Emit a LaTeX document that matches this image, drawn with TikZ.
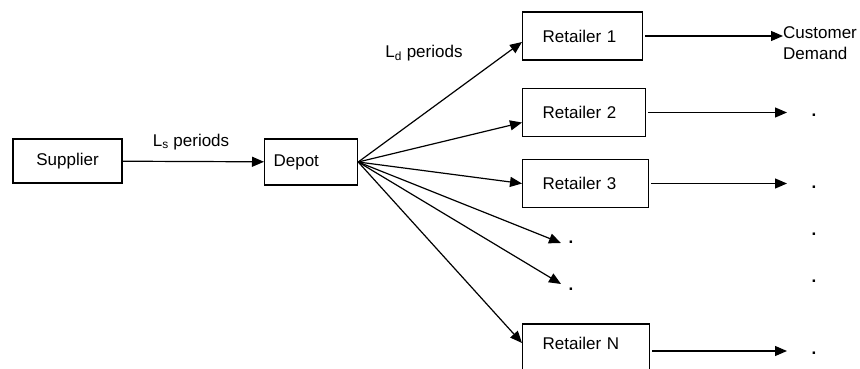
\documentclass[tikz,border=0pt]{standalone}
\usepackage{fontspec}
\setmainfont{Liberation Sans}
\usetikzlibrary{positioning, arrows.meta}

\begin{document}
\begin{tikzpicture}[x=1pt, y=-1pt, >={Triangle[length=12pt, width=10pt]},
    every node/.style={font=\fontsize{17}{21}\selectfont},
    box/.style={draw, line width=1.2pt, inner ysep=0pt, minimum height=#1},
    retailer/.style={box=48pt, text width=#1, inner xsep=20pt, align=left},
    flow/.style={->, line width=1.2pt},
    dot/.style={anchor=base west, inner sep=0pt, font=\fontsize{17}{21}\selectfont\bfseries}]
    \useasboundingbox (0,0) rectangle (860,369);

    % Supplier and depot
    \node[box=44pt, minimum width=109pt] (supplier) at (67.5,161) {Supplier};
    \node[box=46pt, text width=75pt, inner xsep=9pt, align=left, anchor=west] (depot) at (264,162) {Depot};
    \draw[flow] (supplier) -- (depot);
    \node (ls) at (191,142) {L\textsubscript{s} periods};

    % Retailers
    \node[retailer=80pt, anchor=west] (r1) at (522,36) {Retailer 1};
    \node[retailer=83pt, anchor=west] (r2) at (522,112.5) {Retailer 2};
    \node[retailer=86pt, anchor=west] (r3) at (522,183.5) {Retailer 3};
    \node[retailer=87pt, anchor=west, box=54pt, text depth=16pt] (rN) at (522,351) {Retailer N};
    \node (ld) at (424,53) {L\textsubscript{d} periods};

    % Depot to retailers
    \coordinate (m1) at (561,243);
    \coordinate (m2) at (561,284);
    \node[dot] (md1) at (568.5,243) {.};
    \node[dot] (md2) at (568.5,290) {.};
    \draw[flow] (depot.east) -- ([yshift=-6pt]r1.west);
    \draw[flow] (depot.east) -- ([yshift=-10pt]r2.west);
    \draw[flow] (depot.east) -- (r3.west);
    \draw[flow] (depot.east) -- (m1);
    \draw[flow] (depot.east) -- (m2);
    \draw[flow] (depot.east) -- ([yshift=8pt]rN.west);

    % Customer demand
    \coordinate (t1) at (783,36);
    \coordinate (t2) at (787,112.5);
    \coordinate (t3) at (787,183.5);
    \coordinate (tN) at (787,351);
    \node[anchor=west, align=left, inner sep=0pt] (cd) at (783,43) {Customer\\Demand};
    \draw[flow, shorten <=2pt] (r1.east) -- (t1);
    \draw[flow, shorten <=2pt] (r2.east) -- (t2);
    \draw[flow, shorten <=2pt] (r3.east) -- (t3);
    \draw[flow, shorten <=2pt] (rN.east) -- (tN);
    \node[dot] (d2) at (811.5,117) {.};
    \node[dot] (d3) at (811.5,188) {.};
    \node[dot] (d4) at (811.5,235) {.};
    \node[dot] (d5) at (811.5,282) {.};
    \node[dot] (dN) at (811.5,354) {.};
\end{tikzpicture}
\end{document}
